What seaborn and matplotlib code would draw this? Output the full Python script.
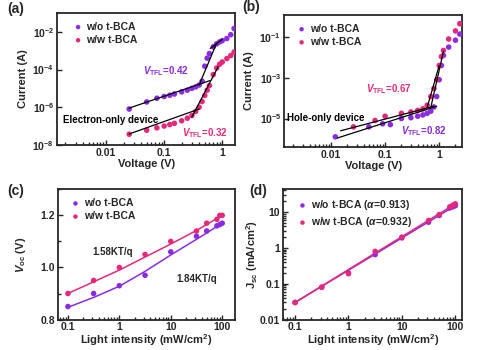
import matplotlib
matplotlib.use("Agg")
import matplotlib.pyplot as plt
import matplotlib.ticker as mticker
import numpy as np
import pandas as pd
import seaborn as sns

# ---- data ----
# (a) electron-only device
a_v_wo = [0.025, 0.05, 0.075, 0.1, 0.125, 0.15, 0.2, 0.25, 0.3, 0.35, 0.4, 0.45, 0.5, 0.55, 0.6, 0.7, 0.8, 0.9, 1.0, 1.2, 1.4, 1.6]
a_i_wo = [8e-7, 1.9e-6, 3e-6, 3.7e-6, 4.3e-6, 5e-6, 6.5e-6, 8e-6, 1e-5, 1.2e-5, 1.5e-5, 2.4e-5, 1.5e-4, 4e-4, 7e-4, 1.6e-3, 2.3e-3, 2.9e-3, 3.4e-3, 4.4e-3, 7e-3, 1.5e-2]
a_v_ww = [0.025, 0.05, 0.075, 0.1, 0.125, 0.15, 0.2, 0.25, 0.3, 0.35, 0.4, 0.45, 0.5, 0.55, 0.6, 0.7, 0.8, 0.9, 1.0, 1.2, 1.4, 1.6]
a_i_ww = [3.7e-8, 6e-8, 8e-8, 1e-7, 1.2e-7, 1.4e-7, 1.9e-7, 2.6e-7, 3.6e-7, 6e-7, 1e-6, 2e-6, 4.2e-6, 8e-6, 1.4e-5, 5.4e-5, 1.2e-4, 1.9e-4, 2.5e-4, 3.8e-4, 5.5e-4, 8.5e-4]
a_fits = [([0.025, 0.62], [9e-7, 2.6e-5]),
          ([0.4, 0.8], [1.5e-5, 2.5e-3]),
          ([0.62, 1.0], [1.3e-3, 4e-3]),
          ([0.025, 0.4], [3.8e-8, 8e-7]),
          ([0.3, 0.85], [3e-7, 1.4e-4])]

# (b) hole-only device
b_v_wo = [0.012, 0.05, 0.09, 0.125, 0.2, 0.3, 0.4, 0.5, 0.6, 0.7, 0.8, 0.9, 1.0, 1.1, 1.2, 1.5, 2.0, 2.4]
b_i_wo = [1.26e-6, 3.9e-6, 5.5e-6, 5e-6, 1e-5, 1.1e-5, 1.3e-5, 1.5e-5, 1.8e-5, 2.3e-5, 3.7e-5, 1.2e-4, 8e-4, 4e-3, 1.25e-2, 3.2e-2, 7e-2, 0.14]
b_v_ww = [0.026, 0.065, 0.1, 0.2, 0.3, 0.4, 0.5, 0.6, 0.7, 0.8, 0.9, 1.0, 1.1, 1.2, 1.5, 2.0, 2.4]
b_i_ww = [3.9e-6, 8e-6, 1.3e-5, 1.8e-5, 2.1e-5, 2.5e-5, 3e-5, 4.5e-5, 1.2e-4, 3e-4, 8e-4, 4e-3, 1.1e-2, 2.2e-2, 8e-2, 0.2, 0.45]
b_fits = [([0.015, 0.8], [2.5e-6, 4e-5]),
          ([0.013, 0.9], [1.1e-6, 4e-5]),
          ([0.7, 1.2], [3.5e-5, 2e-2]),
          ([0.6, 1.0], [3.5e-5, 4e-3])]

# (c) Voc vs light intensity
light = [0.1, 0.316, 1, 3.16, 10, 31.6, 50, 79, 90, 100]
voc_wo = [0.85, 0.90, 0.93, 0.97, 1.06, 1.12, 1.14, 1.16, 1.165, 1.17]
voc_ww = [0.90, 0.95, 1.00, 1.05, 1.10, 1.14, 1.17, 1.185, 1.20, 1.20]
c_fit_x = [0.1, 0.316, 1, 3.16, 10, 31.6, 100]
c_fit_wo = [0.847, 0.885, 0.928, 0.985, 1.048, 1.108, 1.17]
c_fit_ww = [0.90, 0.945, 0.99, 1.04, 1.09, 1.142, 1.20]

# (d) Jsc vs light intensity
jsc_wo = [0.03, 0.08, 0.2, 0.65, 1.9, 5.2, 8.0, 13, 14, 15]
jsc_ww = [0.03, 0.08, 0.19, 0.8, 2.0, 5.8, 8.5, 14, 15.5, 17]
d_fit_x = [0.1, 100]
d_fit_wo = [0.03, 15]
d_fit_ww = [0.03, 17]

purple = "#8a2be2"
pink = "#e6287a"

sns.set_style("ticks")
plt.rcParams["font.family"] = ["Liberation Sans", "DejaVu Sans"]
plt.rcParams["font.weight"] = "bold"
plt.rcParams["axes.labelweight"] = "bold"
plt.rcParams["mathtext.fontset"] = "custom"
plt.rcParams["mathtext.rm"] = "Liberation Sans:bold"
plt.rcParams["mathtext.it"] = "Liberation Sans:italic:bold"
plt.rcParams["mathtext.bf"] = "Liberation Sans:bold"
plt.rcParams["axes.linewidth"] = 1.3

fig = plt.figure(figsize=(4.79, 3.5), dpi=100)
axa = fig.add_axes([0.119, 0.586, 0.372, 0.377])
axb = fig.add_axes([0.593, 0.58, 0.372, 0.377])
axc = fig.add_axes([0.121, 0.087, 0.370, 0.372])
axd = fig.add_axes([0.591, 0.087, 0.374, 0.372])

lab_wo = "w/o t-BCA"
lab_ww = "w/w t-BCA"
fmt = mticker.FuncFormatter(lambda v, p: f"{v:g}")


def style(ax):
    ax.tick_params(which="both", direction="in", labelsize=7.5, width=1.0,
                   top=False, right=False, pad=2)
    ax.tick_params(which="major", length=3.5)
    ax.tick_params(which="minor", length=2)
    for s in ax.spines.values():
        s.set_visible(True)
        s.set_linewidth(1.3)
    for t in ax.get_xticklabels() + ax.get_yticklabels():
        t.set_fontweight("bold")


def pts(ax, x, y, c, label):
    sns.scatterplot(x=x, y=y, ax=ax, color=c, s=16, edgecolor="none", label=label, zorder=3)


def leg(ax, loc):
    ax.legend(loc="upper left", bbox_to_anchor=loc, frameon=False,
              handlelength=0.8, handletextpad=0.4, borderaxespad=0.2,
              labelspacing=0.3, markerscale=0.8,
              prop={"weight": "bold", "size": 7.5})


# ---- (a) ----
pts(axa, a_v_wo, a_i_wo, purple, lab_wo)
pts(axa, a_v_ww, a_i_ww, pink, lab_ww)
for fx, fy in a_fits:
    sns.lineplot(x=fx, y=fy, ax=axa, color="black", lw=0.9, zorder=4, legend=False)
axa.set_xscale("log")
axa.set_yscale("log")
axa.set_xlim(0.00143, 1.67)
axa.set_ylim(1e-8, 1e-1)
axa.set_yticks([1e-8, 1e-6, 1e-4, 1e-2])
axa.set_xticks([0.01, 0.1, 1])
axa.xaxis.set_major_formatter(fmt)
axa.set_xlabel("Voltage (V)", fontsize=8, labelpad=1)
axa.set_ylabel("Current (A)", fontsize=8)
axa.yaxis.set_label_coords(-0.165, 0.5)
leg(axa, (0.06, 0.98))
axa.text(0.043, 8e-5, r"$V_{\rm TFL}$=0.42", color=purple, fontsize=7, weight="bold", va="center")
axa.text(0.2, 4.2e-8, r"$V_{\rm TFL}$=0.32", color=pink, fontsize=7, weight="bold", va="center")
axa.text(0.0018, 2.2e-7, "Electron-only device", color="black", fontsize=7, weight="bold", va="center")
style(axa)

# ---- (b) ----
pts(axb, b_v_wo, b_i_wo, purple, lab_wo)
pts(axb, b_v_ww, b_i_ww, pink, lab_ww)
for fx, fy in b_fits:
    sns.lineplot(x=fx, y=fy, ax=axb, color="black", lw=0.9, zorder=4, legend=False)
axb.set_xscale("log")
axb.set_yscale("log")
axb.set_xlim(0.00135, 2.67)
axb.set_ylim(4e-7, 1.2)
axb.set_yticks([1e-5, 1e-3, 1e-1])
axb.set_xticks([0.01, 0.1, 1])
axb.xaxis.set_major_formatter(fmt)
axb.set_xlabel("Voltage (V)", fontsize=8, labelpad=1)
axb.set_ylabel("Current (A)", fontsize=8)
axb.yaxis.set_label_coords(-0.17, 0.5)
leg(axb, (0.04, 0.98))
axb.text(0.045, 2.7e-4, r"$V_{\rm TFL}$=0.67", color=pink, fontsize=7, weight="bold", va="center")
axb.text(0.2, 2.5e-6, r"$V_{\rm TFL}$=0.82", color=purple, fontsize=7, weight="bold", va="center")
axb.text(0.0015, 1.1e-5, "Hole-only device", color="black", fontsize=7, weight="bold", va="center")
style(axb)

# ---- (c) ----
pts(axc, light, voc_wo, purple, lab_wo)
pts(axc, light, voc_ww, pink, lab_ww)
sns.lineplot(x=c_fit_x, y=c_fit_wo, ax=axc, color=purple, lw=1.1, legend=False)
sns.lineplot(x=c_fit_x, y=c_fit_ww, ax=axc, color=pink, lw=1.1, legend=False)
axc.set_xscale("log")
axc.set_xlim(0.064, 179)
axc.set_ylim(0.8, 1.3)
axc.set_yticks([0.8, 1.0, 1.2])
axc.yaxis.set_minor_locator(mticker.MultipleLocator(0.1))
axc.set_xticks([0.1, 1, 10, 100])
axc.xaxis.set_major_formatter(fmt)
axc.set_xlabel(r"Light intensity (mW/cm$^{2}$)", fontsize=8, labelpad=0)
axc.set_ylabel(r"$V_{\rm oc}$ (V)", fontsize=8)
axc.yaxis.set_label_coords(-0.17, 0.5)
leg(axc, (0.04, 0.98))
axc.text(0.3, 1.06, "1.58KT/q", fontsize=7, weight="bold", va="center")
axc.text(13, 0.955, "1.84KT/q", fontsize=7, weight="bold", va="center")
style(axc)

# ---- (d) ----
pts(axd, light, jsc_wo, purple, r"w/o t-BCA ($\alpha$=0.913)")
pts(axd, light, jsc_ww, pink, r"w/w t-BCA ($\alpha$=0.932)")
sns.lineplot(x=d_fit_x, y=d_fit_wo, ax=axd, color=purple, lw=1.1, legend=False)
sns.lineplot(x=d_fit_x, y=d_fit_ww, ax=axd, color=pink, lw=1.1, legend=False)
axd.set_xscale("log")
axd.set_yscale("log")
axd.set_xlim(0.0596, 135)
axd.set_ylim(0.01, 43)
axd.set_xticks([0.1, 1, 10, 100])
axd.set_yticks([0.01, 0.1, 1, 10])
axd.xaxis.set_major_formatter(fmt)
axd.yaxis.set_major_formatter(fmt)
axd.set_xlabel(r"Light intensity (mW/cm$^{2}$)", fontsize=8, labelpad=0)
axd.set_ylabel(r"J$_{\rm sc}$ (mA/cm$^{2}$)", fontsize=8)
axd.yaxis.set_label_coords(-0.13, 0.5)
leg(axd, (0.05, 0.98))
style(axd)

for lbl, x, y in [("(a)", 0.015, 0.975), ("(b)", 0.505, 0.98), ("(c)", 0.015, 0.455), ("(d)", 0.52, 0.455)]:
    fig.text(x, y, lbl, fontsize=10, weight="bold", va="center")

fig.savefig("out.png", dpi=100)
